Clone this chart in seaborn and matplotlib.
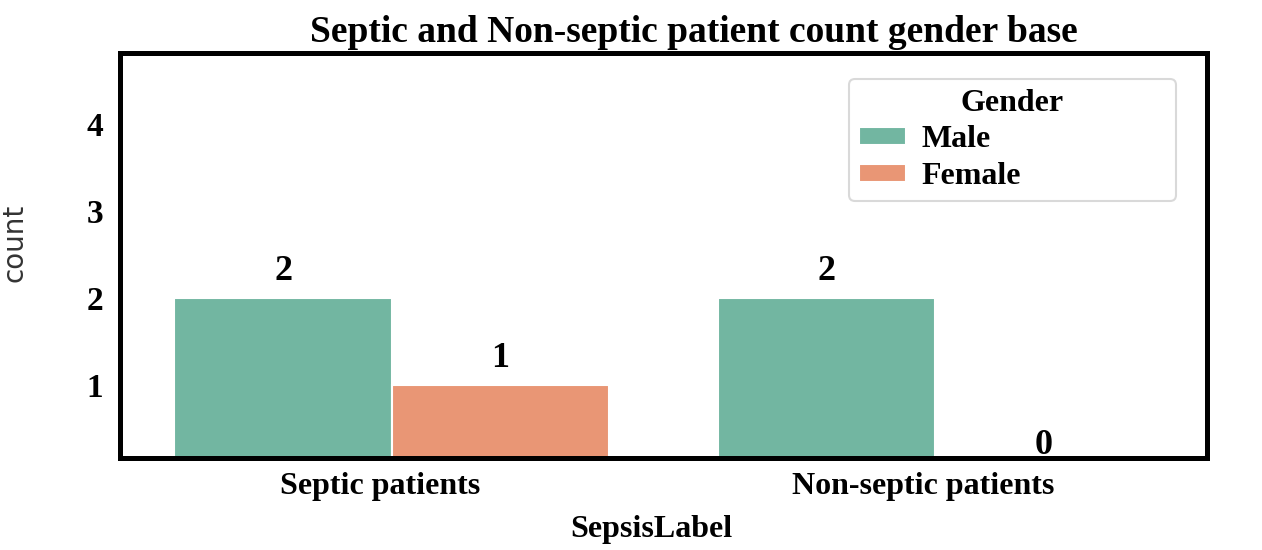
import matplotlib
matplotlib.use("Agg")
import matplotlib.pyplot as plt
import matplotlib.transforms as mtransforms
import seaborn as sns
import pandas as pd

categories = ["Septic patients", "Non-septic patients"]
genders = ["Male", "Female"]
male_counts = [2, 2]
female_counts = [1, 0]
y_ticks = [1, 2, 3, 4]

rows = []
for c, m, f in zip(categories, male_counts, female_counts):
    rows.append({"SepsisLabel": c, "Gender": "Male", "count": m})
    rows.append({"SepsisLabel": c, "Gender": "Female", "count": f})
df = pd.DataFrame(rows)

sns.set_theme(style="white")
serif = ["Liberation Serif", "DejaVu Serif"]
plt.rcParams["font.family"] = serif
plt.rcParams["text.color"] = "black"
plt.rcParams["axes.labelcolor"] = "black"
plt.rcParams["xtick.color"] = "black"
plt.rcParams["ytick.color"] = "black"

fig = plt.figure(figsize=(12.62, 5.5), dpi=100)
ax = fig.add_axes([120/1262, 92/550, 1087/1262, 405/550])

sns.barplot(data=df, x="SepsisLabel", y="count", hue="Gender", order=categories,
            hue_order=genders, palette="Set2", edgecolor="white", linewidth=1.5, ax=ax)

ax.set_ylim(0.16, 4.82)
ax.set_yticks(y_ticks)
ax.set_yticklabels([str(t) for t in y_ticks], fontsize=24, fontweight="bold")
ax.tick_params(axis="y", length=0, pad=12)
ax.tick_params(axis="x", length=0, pad=10)
shift = mtransforms.ScaledTranslation(-12/100, 0, fig.dpi_scale_trans)
for lab in ax.get_xticklabels():
    lab.set_fontsize(23)
    lab.set_fontweight("bold")
    lab.set_transform(lab.get_transform() + shift)

for cont in ax.containers:
    anns = ax.bar_label(cont, fmt="%d", padding=7, fontsize=26, fontweight="bold")
    for a in anns:
        a.set_annotation_clip(False)
        a.set_clip_on(False)

for sp in ax.spines.values():
    sp.set_visible(True)
    sp.set_color("black")
    sp.set_linewidth(3.6)

ax.set_ylabel("count", family=["DejaVu Sans"], fontsize=20, color="#333333")
ax.yaxis.set_label_coords(-0.084, 0.53)
ax.set_xlabel("SepsisLabel", fontsize=23, fontweight="bold")
ax.xaxis.set_label_coords(0.489, -0.14)
ax.set_title("Septic and Non-septic patient count gender base", fontsize=27,
             fontweight="bold", pad=8, x=0.528)

leg = ax.legend(title="Gender", loc="upper left",
                bbox_to_anchor=(0.6707, 0.0, 0.3008, 0.936), mode="expand",
                borderaxespad=0,
                title_fontproperties={"size": 23, "weight": "bold"},
                prop={"size": 23, "weight": "bold"}, handlelength=1.47,
                handleheight=0.47, handletextpad=0.5,
                frameon=True, borderpad=0.3, labelspacing=0.25)
frame = leg.get_frame()
frame.set_edgecolor("#d0d0d0")
frame.set_linewidth(1.5)

fig.savefig("out.png", dpi=100)
